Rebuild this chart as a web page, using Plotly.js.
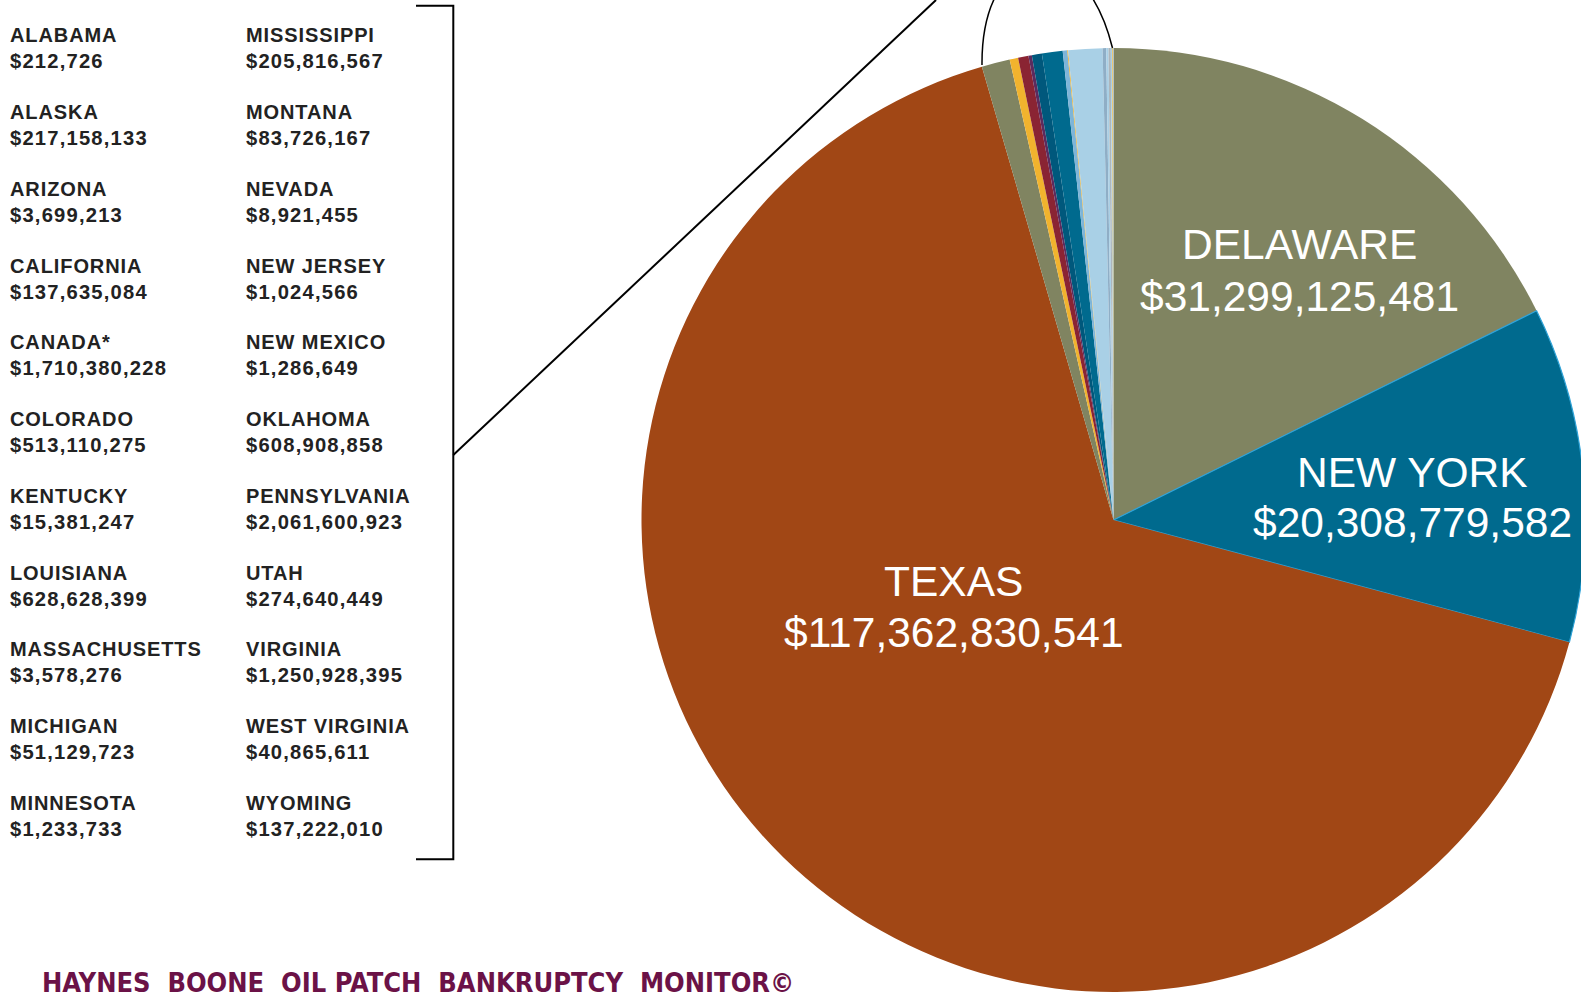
<!DOCTYPE html>
<html>
<head>
<meta charset="utf-8">
<script src="https://cdn.plot.ly/plotly-3.0.1.min.js"></script>
<style>
  html, body { margin: 0; padding: 0; background: #ffffff; overflow: hidden; }
  #chart { width: 1590px; height: 995px; }
  text.annotation-text[style*="font-size: 20px"] { letter-spacing: 0.9px; }
  text.annotation-text[style*="font-size: 20.2px"] { letter-spacing: 1.2px; }
</style>
</head>
<body>
<div id="chart"></div>
<script>
// ---- data (clockwise from 12 o'clock) ----
const sliceNames = ['DELAWARE','NEW YORK','TEXAS','CANADA*','COLORADO','LOUISIANA','MISSISSIPPI','OKLAHOMA','VIRGINIA','UTAH','MICHIGAN','PENNSYLVANIA','ALASKA','CALIFORNIA','WYOMING','MONTANA','WEST VIRGINIA','KENTUCKY','NEVADA','ARIZONA','MASSACHUSETTS','NEW MEXICO','MINNESOTA','NEW JERSEY','ALABAMA'];
const sliceValues = [31299125481, 20308779582, 117362830541, 1710380228, 513110275, 628628399, 205816567, 608908858, 1250928395, 274640449, 51129723, 2061600923, 217158133, 137635084, 137222010, 83726167, 40865611, 15381247, 8921455, 3699213, 3578276, 1286649, 1233733, 1024566, 212726];
const sliceColors = ['#808461','#006A8E','#A14715','#808461','#F1B32E','#8A2433','#5C2B5E','#00587C','#006A8E','#7DB5D9','#F1B32E','#A9D0E6','#8FAEC6','#A9D0E6','#AEB6BC','#A9D0E6','#F1B32E','#A9D0E6','#9DB3C4','#A9D0E6','#A9D0E6','#A9D0E6','#A9D0E6','#A9D0E6','#A9D0E6'];

// labelled big slices
const bigLabels = ['DELAWARE','NEW YORK','TEXAS'];

// side list (two columns)
const listCol1 = ['ALABAMA','ALASKA','ARIZONA','CALIFORNIA','CANADA*','COLORADO','KENTUCKY','LOUISIANA','MASSACHUSETTS','MICHIGAN','MINNESOTA'];
const listCol2 = ['MISSISSIPPI','MONTANA','NEVADA','NEW JERSEY','NEW MEXICO','OKLAHOMA','PENNSYLVANIA','UTAH','VIRGINIA','WEST VIRGINIA','WYOMING'];

const footerText = 'HAYNES&nbsp; BOONE&nbsp; OIL PATCH&nbsp; BANKRUPTCY&nbsp; MONITOR©';

// ---- helpers ----
const W = 1590, H = 995;
const px = x => x / W;
const py = y => 1 - y / H;
const valueOf = name => sliceValues[sliceNames.indexOf(name)];
const money = v => '$' + v.toLocaleString('en-US');

const annotations = [];
const bigFont = { family: 'Liberation Sans, Arial, sans-serif', size: 42.5, color: '#ffffff' };

// big slice labels: [x center, name line y, value line y]
const bigPos = { 'DELAWARE': [1299, 244.5, 296], 'NEW YORK': [1412, 472.5, 522.5], 'TEXAS': [953.5, 581, 632] };
bigLabels.forEach(n => {
  const p = bigPos[n];
  annotations.push({ xref: 'paper', yref: 'paper', x: px(p[0]), y: py(p[1]),
    xanchor: 'center', yanchor: 'middle', showarrow: false, borderpad: 0, text: n, font: bigFont });
  annotations.push({ xref: 'paper', yref: 'paper', x: px(p[0]), y: py(p[2]),
    xanchor: 'center', yanchor: 'middle', showarrow: false, borderpad: 0, text: money(valueOf(n)), font: bigFont });
});

// side list
const rowStep = 76.75, nameMid = 35.4, valueMid = 61.3;
const nameFont = { family: 'Liberation Sans, Arial, sans-serif', size: 20, color: '#222222', weight: 700 };
const valFont = { family: 'Liberation Sans, Arial, sans-serif', size: 20.2, color: '#222222', weight: 700 };
[[listCol1, 9], [listCol2, 244.5]].forEach(([col, x0]) => {
  col.forEach((n, i) => {
    annotations.push({ xref: 'paper', yref: 'paper', x: px(x0), y: py(nameMid + rowStep * i),
      xanchor: 'left', yanchor: 'middle', align: 'left', showarrow: false, borderpad: 0,
      text: n, font: nameFont });
    annotations.push({ xref: 'paper', yref: 'paper', x: px(x0), y: py(valueMid + rowStep * i),
      xanchor: 'left', yanchor: 'middle', align: 'left', showarrow: false, borderpad: 0,
      text: money(valueOf(n)), font: valFont });
  });
});

// footer
annotations.push({
  xref: 'paper', yref: 'paper', x: px(41), y: py(982), xanchor: 'left', yanchor: 'middle',
  showarrow: false, borderpad: 0, text: footerText,
  font: { family: 'DejaVu Sans Condensed, Liberation Sans, Arial, sans-serif', size: 27, color: '#6B1247', weight: 700 }
});

const shapes = [
  { type: 'path', xref: 'paper', yref: 'paper',
    path: `M ${px(416)} ${py(5.7)} L ${px(453.3)} ${py(5.7)} L ${px(453.3)} ${py(859.3)} L ${px(416)} ${py(859.3)}`,
    line: { color: '#000000', width: 2 } },
  { type: 'line', xref: 'paper', yref: 'paper', x0: px(453.3), y0: py(455), x1: px(936), y1: py(0),
    line: { color: '#000000', width: 2 } },
  { type: 'path', xref: 'paper', yref: 'paper',
    path: `M ${px(982)} ${py(65)} C ${px(981)} ${py(-60)}, ${px(1082)} ${py(-75)}, ${px(1112.5)} ${py(48)}`,
    line: { color: '#000000', width: 1.5 } }
];

const lineColors = sliceNames.map(n => n === 'NEW YORK' ? '#2FA3D8' : 'rgba(0,0,0,0)');
const lineWidths = sliceNames.map(n => n === 'NEW YORK' ? 1.2 : 0);

const trace = {
  type: 'pie',
  labels: sliceNames,
  values: sliceValues,
  sort: false,
  direction: 'clockwise',
  rotation: 0,
  textinfo: 'none',
  hoverinfo: 'label+value',
  marker: { colors: sliceColors, line: { color: lineColors, width: lineWidths } },
  domain: { x: [641.5 / W, 1585.5 / W], y: [1 - 992 / H, 1 - 48 / H] },
  showlegend: false
};

const layout = {
  width: W, height: H,
  margin: { l: 0, r: 0, t: 0, b: 0, pad: 0 },
  paper_bgcolor: '#ffffff', plot_bgcolor: '#ffffff',
  showlegend: false,
  annotations: annotations,
  shapes: shapes
};

Plotly.newPlot('chart', [trace], layout, { displayModeBar: false, staticPlot: true });
</script>
</body>
</html>
